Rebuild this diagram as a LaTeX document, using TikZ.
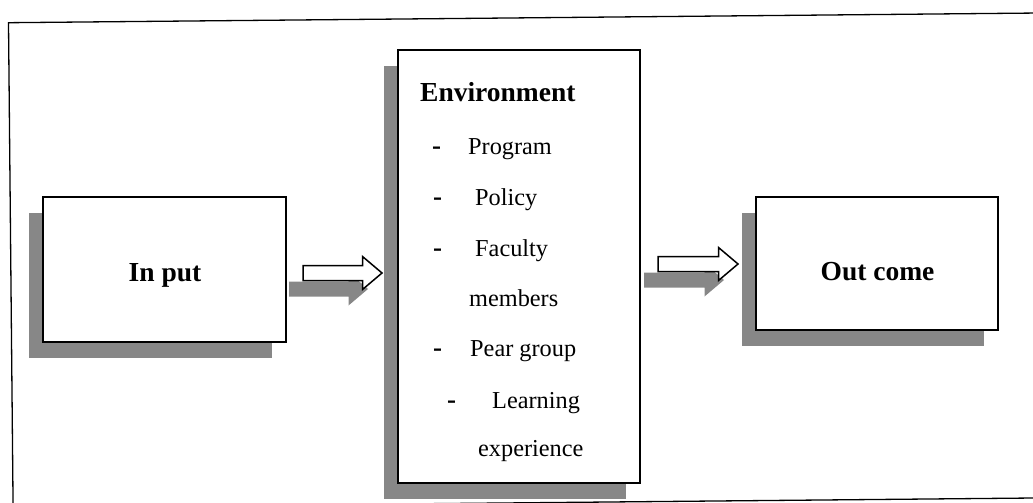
\documentclass[tikz,border=0pt]{standalone}
\usepackage{fontspec}
\setmainfont{Liberation Serif}
\usetikzlibrary{calc,shadows}
\tikzset{
  shadowc/.style={fill=black!47},
  box/.style={draw=black, line width=1.4pt, fill=white, inner sep=0pt,
    general shadow={shadowc, shadow xshift=-14pt, shadow yshift=-16pt}},
  title/.style={inner sep=0pt, font=\fontsize{27.5}{30}\selectfont\bfseries},
  item/.style={inner sep=0pt, anchor=base west, font=\fontsize{24.3}{28}\selectfont},
  dashmark/.style={inner sep=0pt, anchor=base west, font=\fontsize{27}{28}\selectfont\bfseries},
  blockarrow/.style={to path={
    ($(\tikztostart)+(0,-7.5)$) -- ($(\tikztotarget)+(-19.5,-7.5)$) --
    ($(\tikztotarget)+(-19.5,-16.5)$) -- (\tikztotarget) --
    ($(\tikztotarget)+(-19.5,16.5)$) -- ($(\tikztotarget)+(-19.5,7.5)$) --
    ($(\tikztostart)+(0,7.5)$) -- cycle}},
  arrowbody/.style={draw=black, fill=white, line width=1.5pt, line join=miter},
  frame/.style={draw=black, line width=1.3pt}
}
\begin{document}
\begin{tikzpicture}[x=1pt, y=-1pt]
\useasboundingbox (0,0) rectangle (1033,503);
\clip (0,0) rectangle (1033,503);
% outer frame (slightly skewed as in the scan)
\draw[frame] (8.5,22.7) -- (1040,13) -- (1044.6,497.9) -- (13.1,507.6) -- cycle;

% boxes
\node[box, minimum width=243pt, minimum height=145pt] (in) at (164.5,269.5) {};
\node[box, minimum width=242pt, minimum height=433pt] (env) at (519,266.5) {};
\node[box, minimum width=242pt, minimum height=133pt] (out) at (877,263.5) {};

% block arrows
\coordinate (a1s) at (303,273);
\coordinate (a1t) at (382,273);
\coordinate (a2s) at (658,264);
\coordinate (a2t) at (738,264);
\coordinate (a1ss) at ([shift={(-14,16)}]a1s);
\coordinate (a1ts) at ([shift={(-14,16)}]a1t);
\coordinate (a2ss) at ([shift={(-14,16)}]a2s);
\coordinate (a2ts) at ([shift={(-14,16)}]a2t);
\fill[shadowc] (a1ss) to[blockarrow] (a1ts);
\fill[shadowc] (a2ss) to[blockarrow] (a2ts);
\draw[arrowbody] (a1s) to[blockarrow] (a1t);
\draw[arrowbody] (a2s) to[blockarrow] (a2t);

% texts
\node[title, anchor=base] (inlbl) at (165,281) {In put};
\node[title, anchor=base] (outlbl) at (877.5,280) {Out come};
\node[title, anchor=base west] (envlbl) at (420,101.7) {Environment};

\node[dashmark] (d1) at (432,154) {-};
\node[item] (i1) at (468,154) {Program};
\node[dashmark] (d2) at (433,205) {-};
\node[item] (i2) at (475,205) {Policy};
\node[dashmark] (d3) at (433,256.7) {-};
\node[item] (i3) at (475,256.7) {Faculty};
\node[item] (i3b) at (469,306.7) {members};
\node[dashmark] (d4) at (433,356.7) {-};
\node[item] (i4) at (470,356.7) {Pear group};
\node[dashmark] (d5) at (447,408) {-};
\node[item] (i5) at (492,408) {Learning};
\node[item] (i5b) at (478,456.7) {experience};
\end{tikzpicture}
\end{document}
